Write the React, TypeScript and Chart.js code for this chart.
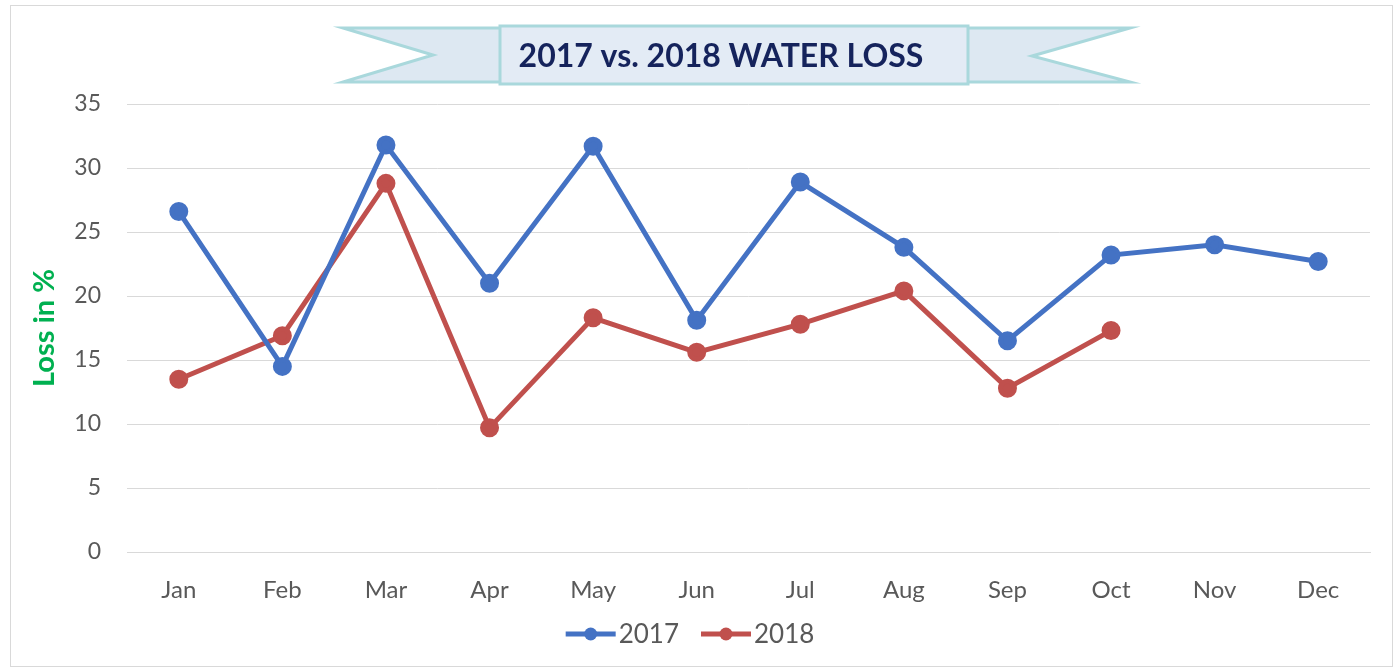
import React, { useEffect, useRef } from "react";
import { Chart, registerables } from "chart.js";

Chart.register(...registerables);

const months = ["Jan", "Feb", "Mar", "Apr", "May", "Jun", "Jul", "Aug", "Sep", "Oct", "Nov", "Dec"];
const loss2017 = [26.6, 14.5, 31.8, 21.0, 31.7, 18.1, 28.9, 23.8, 16.5, 23.2, 24.0, 22.7];
const loss2018 = [13.5, 16.9, 28.8, 9.7, 18.3, 15.6, 17.8, 20.4, 12.8, 17.3, null, null];
const yTicks = [0, 5, 10, 15, 20, 25, 30, 35];
const titleText = "2017 vs. 2018 WATER LOSS";
const yTitle = "Loss in %";
const seriesNames = ["2017", "2018"];
const BLUE = "#4472C4";
const RED = "#C0504D";
const FONT = "Lato, 'Open Sans', sans-serif";

const decorPlugin = {
  id: "decor",
  beforeDraw(chart: any) {
    const ctx = chart.ctx;
    ctx.save();
    ctx.fillStyle = "#ffffff";
    ctx.fillRect(0, 0, chart.width, chart.height);
    ctx.strokeStyle = "#d9d9d9";
    ctx.lineWidth = 1;
    ctx.strokeRect(10.5, 5.5, 1382, 661);
    // banner tails
    ctx.fillStyle = "#dde8f2";
    ctx.strokeStyle = "#a9d8dc";
    ctx.lineWidth = 3;
    ctx.beginPath();
    ctx.moveTo(505, 28);
    ctx.lineTo(343, 28);
    ctx.lineTo(433, 55);
    ctx.lineTo(343, 82);
    ctx.lineTo(505, 82);
    ctx.closePath();
    ctx.fill();
    ctx.stroke();
    ctx.beginPath();
    ctx.moveTo(965, 28);
    ctx.lineTo(1130, 28);
    ctx.lineTo(1032, 56);
    ctx.lineTo(1130, 82);
    ctx.lineTo(965, 82);
    ctx.closePath();
    ctx.fill();
    ctx.stroke();
    // center
    ctx.fillStyle = "#e3ebf5";
    ctx.beginPath();
    ctx.rect(500, 26, 468, 58);
    ctx.fill();
    ctx.stroke();
    ctx.fillStyle = "#15235c";
    ctx.font = `bold 32px ${FONT}`;
    ctx.textAlign = "center";
    ctx.textBaseline = "middle";
    ctx.fillText(titleText, 721, 57);
    ctx.restore();
  },
  afterDraw(chart: any) {
    const ctx = chart.ctx;
    ctx.save();
    ctx.font = `26px ${FONT}`;
    ctx.textBaseline = "middle";
    ctx.textAlign = "left";
    const colors = [BLUE, RED];
    const lineLen = 50;
    const gap = 22;
    const widths = seriesNames.map((n) => ctx.measureText(n).width);
    const total = widths.reduce((a, w) => a + lineLen + 3 + w, 0) + gap;
    let x = 690 - total / 2;
    const y = 634;
    seriesNames.forEach((n, i) => {
      ctx.strokeStyle = colors[i];
      ctx.lineWidth = 5;
      ctx.beginPath();
      ctx.moveTo(x, y);
      ctx.lineTo(x + lineLen, y);
      ctx.stroke();
      ctx.fillStyle = colors[i];
      ctx.beginPath();
      ctx.arc(x + lineLen / 2, y, 6.5, 0, Math.PI * 2);
      ctx.fill();
      ctx.fillStyle = "#595959";
      ctx.fillText(n, x + lineLen + 3, y + 1);
      x += lineLen + 3 + widths[i] + gap;
    });
    ctx.restore();
  },
};

export default function App() {
  const ref = useRef<HTMLCanvasElement>(null);
  useEffect(() => {
    document.body.style.margin = "0";
    const chart = new Chart(ref.current!, {
      type: "line",
      data: {
        labels: months,
        datasets: [
          {
            label: seriesNames[0],
            data: loss2017,
            borderColor: BLUE,
            backgroundColor: BLUE,
            borderWidth: 5,
            pointRadius: 7,
            pointHoverRadius: 7,
            tension: 0,
          },
          {
            label: seriesNames[1],
            data: loss2018 as any,
            borderColor: RED,
            backgroundColor: RED,
            borderWidth: 5,
            pointRadius: 7,
            pointHoverRadius: 7,
            tension: 0,
            spanGaps: false,
          },
        ],
      },
      options: {
        animation: false,
        responsive: false,
        layout: { padding: { top: 104, right: 29, bottom: 58, left: 0 } },
        plugins: { legend: { display: false }, tooltip: { enabled: false } },
        scales: {
          x: {
            offset: true,
            grid: { display: false, drawTicks: false },
            border: { color: "#d9d9d9", width: 1 },
            ticks: { color: "#595959", font: { family: FONT, size: 24 }, padding: 24, maxRotation: 0 },
            afterFit: (s: any) => {
              s.height = 60;
            },
          },
          y: {
            min: 0,
            max: 35,
            afterBuildTicks: (s: any) => {
              s.ticks = yTicks.map((v) => ({ value: v }));
            },
            grid: { color: "#d9d9d9", drawTicks: false, lineWidth: 1 },
            border: { display: false },
            ticks: { color: "#595959", font: { family: FONT, size: 23 }, padding: 26 },
            title: {
              display: true,
              text: yTitle,
              color: "#00B050",
              font: { family: FONT, size: 29, weight: "bold" },
              padding: { top: 27, bottom: 0 },
            },
            afterFit: (s: any) => {
              s.width = 127;
            },
          },
        },
      },
      plugins: [decorPlugin],
    });
    return () => chart.destroy();
  }, []);
  return (
    <div style={{ width: 1399, height: 670 }}>
      <canvas ref={ref} width={1399} height={670} style={{ display: "block" }} />
    </div>
  );
}
